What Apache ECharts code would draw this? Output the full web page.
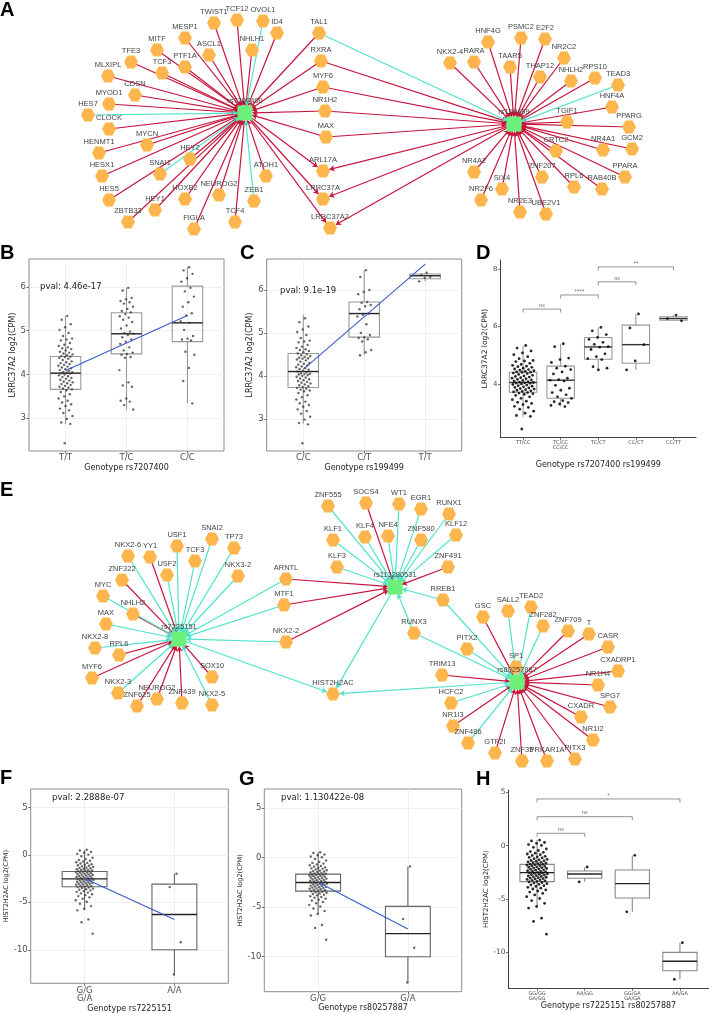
<!DOCTYPE html>
<html><head><meta charset="utf-8">
<script src="https://cdn.jsdelivr.net/npm/echarts@6/dist/echarts.min.js"></script>
<style>html,body{margin:0;padding:0;background:#fff}#c{width:710px;height:1013px}</style>
</head><body><div id="c"></div>
<script>
// ================= DATA =================
// ---- Network A: TF -> SNP edges ('r' = red, 'c' = cyan), SNP -> gene edges
const hubsA = ['rs7207400','rs199499'];
const tfA1red = ['TWIST1','TCF12','ID4','MESP1','NHLH1','ASCL1','MITF','TFE3','PTF1A','TCF3','MLXIPL','CDSN','MYOD1','CLOCK','MYCN','HENMT1','HEY2','HESX1','ATOH1','HES5','HOXB2','NEUROG2','HEY1','ZBTB33','FIGLA','TCF4','TAL1','RXRA','MYF6','NR1H2','MAX'];
const tfA1cyan = ['OVOL1','HES7','SNAI1','ZEB1'];
const tfA2red = ['HNF4G','PSMC2','E2F2','NKX2-4','RARA','TAAR5','NR2C2','THAP12','NHLH2','RPS10','HNF4A','TGIF1','PPARG','CRTC2','NR4A1','GCM2','NR4A2','ZNF207','SIX4','RPL6','RAB40B','PPARA','NR2F6','NR2E3','UBE2V1','RXRA','MYF6','NR1H2','MAX'];
const tfA2cyan = ['TEAD3','TAL1'];
const genesA = ['ARL17A','LRRC37A','LRRC37A2'];

// ---- Network E
const hubsE = ['rs7225151','rs113280531','rs80257887'];
const geneE = 'HIST2H2AC';
const tfE1red = ['YY1','ZNF322','NHLH2','RPL6','MYF6','SOX10','ZNF625','NEUROG2','ZNF439'];
const tfE1cyan = ['NKX2-6','USF1','SNAI2','TP73','TCF3','USF2','NKX3-2','MYC','MAX','NKX2-8','NKX2-3','NKX2-5','ARNTL','MTF1','NKX2-2'];
const tfE2red = ['SOCS4','ZNF491','ARNTL','MTF1','NKX2-2'];
const tfE2cyan = ['ZNF555','WT1','EGR1','RUNX1','KLF1','KLF4','NFE4','ZNF580','KLF12','KLF3','RREB1','RUNX3'];
const tfE3red = ['GSC','ZNF709','T','CASR','CXADRP1','NR1H4','SPG7','CXADR','TRIM13','NR1I3','GTF2I','ZNF35','PRKAR1A','PITX3','NR1I2'];
const tfE3cyan = ['SALL2','TEAD2','ZNF282','RREB1','RUNX3','PITX2','SP1','HCFC2','ZNF486'];

// ---- Panels B, C, D (LRRC37A2 log2 CPM)
const catsB = ['T/T','T/C','C/C'];
const catsC = ['C/C','C/T','T/T'];
const catsD = ['TT/CC','TC/CC\nCC/CC','TC/CT','CC/CT','CC/TT'];
const lrrcMajor = [5.34,5.25,5.15,5.08,5.02,4.95,4.88,4.82,4.80,4.78,4.72,4.68,4.65,4.62,4.60,4.58,4.55,4.52,4.50,4.48,4.46,4.44,4.42,4.41,4.40,4.38,4.36,4.33,4.30,4.28,4.26,4.24,4.22,4.20,4.18,4.16,4.14,4.12,4.10,4.08,4.06,4.05,4.04,4.03,4.02,4.00,3.98,3.96,3.94,3.92,3.90,3.88,3.86,3.84,3.82,3.80,3.78,3.76,3.74,3.72,3.70,3.68,3.66,3.64,3.60,3.55,3.50,3.45,3.40,3.36,3.32,3.28,3.22,3.18,3.12,3.05,2.98,2.90,2.87,2.43];
const B_TC = [5.98,5.92,5.75,5.72,5.68,5.65,5.62,5.55,5.50,5.45,5.42,5.38,5.33,5.30,5.25,5.20,5.12,5.05,4.98,4.95,4.93,4.90,4.85,4.80,4.75,4.70,4.62,4.55,4.50,4.47,4.45,4.40,4.38,4.10,3.82,3.75,3.72,3.45,3.40,3.38,3.30,3.20];
const B_CC = [6.45,6.38,6.30,6.20,6.12,5.98,5.90,5.78,5.65,5.55,5.40,5.35,5.22,5.18,5.02,4.88,4.82,4.80,4.78,4.52,4.45,4.15,3.85,3.34];
const C_CT = [6.46,6.30,6.00,5.95,5.90,5.72,5.70,5.65,5.62,5.55,5.45,5.42,5.38,5.20,5.00,4.95,4.90,4.88,4.85,4.80,4.60,4.55,4.48];
const C_TT = [6.40,6.35,6.30,6.28,6.20];
const D_TCCC = [5.40,5.30,4.90,4.85,4.75,4.62,4.55,4.50,4.42,4.35,4.20,4.15,4.13,4.10,3.95,3.85,3.78,3.70,3.62,3.55,3.50,3.42,3.38,3.35,3.30,3.25,3.21];
const D_TCCT = [5.97,5.85,5.72,5.62,5.55,5.45,5.38,5.30,5.28,5.20,5.05,4.95,4.88,4.85,4.60,4.55,4.49];
const D_CCCT = [6.44,5.95,5.37,4.80,4.49];
const D_CCTT = [6.40,6.28,6.20];
// box stats [lower whisker, Q1, median, Q3, upper whisker]
const B_box = [[2.87,3.66,4.03,4.41,5.34],[3.19,4.47,4.93,5.41,5.98],[3.34,4.75,5.18,6.02,6.45]];
const C_box = [[2.89,3.73,4.10,4.52,5.42],[4.48,4.90,5.45,5.72,6.46],[6.20,6.26,6.33,6.37,6.40]];
const D_box = [[2.86,3.71,4.05,4.41,5.33],[3.21,3.50,4.13,4.62,5.40],[4.49,4.86,5.29,5.62,5.97],[4.49,4.72,5.37,6.05,6.44],[6.20,6.22,6.28,6.34,6.40]];
const B_fit = [[1,4.09],[3,5.35]];
const C_fit = [[1,4.15],[3,6.60]];
const D_sig = [[1,2,6.61],[2,3,7.10],[3,4,7.56],[3,5,8.08]];
const D_sigText = ['ns','****','ns','**'];
const B_pval = 'pval: 4.46e-17';
const C_pval = 'pval: 9.1e-19';

// ---- Panels F, G, H (HIST2H2AC log2 CPM)
const catsF = ['G/G\nG/A','A/A'];
const catsG = ['G/G','G/A'];
const catsH = ['GG/GG\nGA/GG','AA/GG','GG/GA\nGA/GA','AA/GA'];
const histMajor = [0.53,0.45,0.30,0.22,0.10,0.02,-0.15,-0.30,-0.45,-0.55,-0.62,-0.70,-0.78,-0.85,-0.92,-1.00,-1.05,-1.10,-1.15,-1.22,-1.28,-1.33,-1.38,-1.42,-1.47,-1.52,-1.56,-1.60,-1.64,-1.68,-1.72,-1.75,-1.78,-1.82,-1.86,-1.90,-1.94,-1.98,-2.02,-2.06,-2.10,-2.14,-2.18,-2.22,-2.26,-2.30,-2.34,-2.38,-2.42,-2.46,-2.50,-2.53,-2.56,-2.60,-2.64,-2.68,-2.72,-2.76,-2.80,-2.84,-2.88,-2.92,-2.96,-3.00,-3.04,-3.08,-3.12,-3.16,-3.20,-3.25,-3.30,-3.35,-3.40,-3.45,-3.50,-3.56,-3.62,-3.68,-3.75,-3.82,-3.90,-3.98,-4.06,-4.15,-4.25,-4.35,-4.48,-4.62,-4.78,-4.95,-5.15,-5.40,-5.70,-5.85,-6.80,-7.10,-8.30];
const F_AA = [-2.0,-3.4,-9.2,-12.6];
const G_GA = [-0.9,-6.2,-9.1,-12.6];
const H_AAGG = [-2.0,-3.4];
const H_GGGA = [-0.9,-6.2];
const H_AAGA = [-9.1,-12.53];
const F_box = [[-5.7,-3.37,-2.53,-1.75,0.49],[-12.6,-10.0,-6.28,-3.09,-2.0]];
const G_box = [[-5.67,-3.39,-2.52,-1.68,0.54],[-12.58,-10.0,-7.68,-4.93,-0.9]];
const H_box = [[-5.7,-3.37,-2.53,-1.75,0.53],[-3.37,-3.06,-2.66,-2.37,-2.03],[-6.19,-4.9,-3.56,-2.28,-0.94],[-12.53,-11.72,-10.84,-10.0,-9.1]];
const F_fit = [[1,-2.5],[2,-6.8]];
const G_fit = [[1,-2.5],[2,-7.2]];
const H_sig = [[1,2,1.16],[1,3,2.72],[1,4,4.38]];
const H_sigText = ['ns','ns','*'];
const F_pval = 'pval: 2.2888e-07';
const G_pval = 'pval: 1.130422e-08';

// ================= LAYOUT (network node positions, figure units) =================
const layoutA = {
 'rs7207400':[245,113],'rs199499':[514,124],
 'TWIST1':[214,23],'TCF12':[237,20],'OVOL1':[263,21],'ID4':[277,33],'MESP1':[185,38],'NHLH1':[252,50],'ASCL1':[209,55],
 'MITF':[157,50],'TFE3':[131,62],'PTF1A':[185,67],'TCF3':[162,73],'MLXIPL':[108,76],'CDSN':[135,95],'MYOD1':[109,104],
 'HES7':[88,115],'CLOCK':[109,129],'MYCN':[147,145],'HENMT1':[99,153],'HEY2':[190,159],'SNAI1':[160,174],'HESX1':[102,176],
 'ATOH1':[266,176],'HES5':[109,200],'HOXB2':[185,199],'NEUROG2':[219,195],'ZEB1':[254,201],'HEY1':[155,210],'ZBTB33':[128,222],
 'FIGLA':[194,229],'TCF4':[235,222],
 'TAL1':[319,33],'RXRA':[321,61],'MYF6':[323,87],'NR1H2':[325,111],'MAX':[326,137],'ARL17A':[323,171],'LRRC37A':[323,199],'LRRC37A2':[330,228],
 'HNF4G':[488,42],'PSMC2':[521,38],'E2F2':[545,39],'NKX2-4':[450,63],'RARA':[474,62],'TAAR5':[510,67],'NR2C2':[564,58],
 'THAP12':[540,77],'NHLH2':[571,81],'RPS10':[595,78],'TEAD3':[618,85],'HNF4A':[612,107],'TGIF1':[567,122],'PPARG':[629,127],
 'CRTC2':[556,151],'NR4A1':[603,150],'GCM2':[632,149],'NR4A2':[474,172],'ZNF207':[542,177],'SIX4':[502,189],'RPL6':[574,187],
 'RAB40B':[602,189],'PPARA':[625,177],'NR2F6':[481,200],'NR2E3':[520,212],'UBE2V1':[546,214]
};
const layoutE = {
 'rs7225151':[179,639],'rs113280531':[395,587],'rs80257887':[517,682],'HIST2H2AC':[333,694],
 'NKX2-6':[128,556],'YY1':[150,557],'USF1':[177,546],'SNAI2':[212,539],'TP73':[234,548],'TCF3':[195,561],'USF2':[167,575],
 'NKX3-2':[238,576],'ZNF322':[122,580],'MYC':[103,596],'NHLH2':[133,614],'MAX':[106,624],'NKX2-8':[95,648],'RPL6':[119,655],
 'MYF6':[92,678],'SOX10':[212,677],'ARNTL':[286,579],'MTF1':[284,605],'NKX2-2':[286,642],'NKX2-3':[118,693],'ZNF625':[137,706],
 'NEUROG2':[157,699],'ZNF439':[182,703],'NKX2-5':[212,705],
 'ZNF555':[328,506],'SOCS4':[366,503],'WT1':[399,504],'EGR1':[421,509],'RUNX1':[449,514],'KLF1':[333,540],'KLF4':[365,537],
 'NFE4':[388,536],'ZNF580':[421,540],'KLF12':[456,535],'KLF3':[337,567],'ZNF491':[448,567],'RREB1':[443,600],'RUNX3':[414,633],
 'GSC':[483,617],'SALL2':[508,611],'TEAD2':[531,607],'ZNF282':[543,626],'ZNF709':[568,631],'T':[589,634],'CASR':[608,647],
 'CXADRP1':[618,671],'NR1H4':[598,685],'SPG7':[610,707],'CXADR':[581,717],'PITX2':[467,649],'SP1':[516,667],'TRIM13':[442,675],
 'HCFC2':[451,703],'NR1I3':[453,726],'ZNF486':[468,743],'GTF2I':[495,753],'ZNF35':[522,761],'PRKAR1A':[547,761],'PITX3':[575,759],
 'NR1I2':[593,740]
};

// ================= STYLE =================
const RED = '#C8143C', CYAN = '#4FE3CC', ORANGE = '#FDB54C', GREEN = '#6BF07C';
const HEX = 'path://M0,50 L25,0 L75,0 L100,50 L75,100 L25,100 Z';
const PF = 'DejaVu Sans';
const NF = 'Liberation Sans';

function buildGraph(layout, hubs, groups) {
  const links = [];
  groups.forEach(g => {
    g.src.forEach(s => links.push({source: g.rev ? g.hub : s, target: g.rev ? s : g.hub,
      lineStyle: {color: g.col === 'r' ? RED : CYAN}}));
  });
  const nodes = Object.keys(layout).map(n => {
    const isHub = hubs.indexOf(n) >= 0;
    return isHub ? {name: n, value: layout[n], symbol: 'rect', symbolSize: 15, itemStyle: {color: GREEN}, z: 5}
                 : {name: n, value: layout[n]};
  });
  return {
    type: 'graph', coordinateSystem: 'cartesian2d', xAxisIndex: 0, yAxisIndex: 0, layout: 'none',
    symbol: HEX, symbolSize: [14, 13], itemStyle: {color: ORANGE},
    label: {show: true, position: 'top', distance: 1, fontSize: 7.5, color: '#444', fontFamily: NF},
    edgeSymbol: ['none', 'arrow'], edgeSymbolSize: [0, 5],
    lineStyle: {width: 1.2, opacity: 1, curveness: 0},
    emphasis: {disabled: true}, silent: true, animation: false,
    data: nodes, links: links, z: 2
  };
}

const grids = [{left: 0, top: 0, width: 710, height: 1013, outerBoundsMode: 'none'}];
const xAxes = [{gridIndex: 0, type: 'value', min: 0, max: 710, show: false}];
const yAxes = [{gridIndex: 0, type: 'value', min: 0, max: 1013, inverse: true, show: false}];
const series = [];

series.push(buildGraph(layoutA, hubsA, [
  {hub: 'rs7207400', src: tfA1red, col: 'r'}, {hub: 'rs7207400', src: tfA1cyan, col: 'c'},
  {hub: 'rs199499', src: tfA2red, col: 'r'}, {hub: 'rs199499', src: tfA2cyan, col: 'c'},
  {hub: 'rs7207400', src: genesA, col: 'r', rev: true}, {hub: 'rs199499', src: genesA, col: 'r', rev: true}
]));
series.push(buildGraph(layoutE, hubsE, [
  {hub: 'rs7225151', src: tfE1red, col: 'r'}, {hub: 'rs7225151', src: tfE1cyan, col: 'c'},
  {hub: 'rs113280531', src: tfE2red, col: 'r'}, {hub: 'rs113280531', src: tfE2cyan, col: 'c'},
  {hub: 'rs80257887', src: tfE3red, col: 'r'}, {hub: 'rs80257887', src: tfE3cyan, col: 'c'},
  {hub: 'rs7225151', src: [geneE], col: 'c', rev: true}, {hub: 'rs113280531', src: [geneE], col: 'c', rev: true},
  {hub: 'rs80257887', src: [geneE], col: 'c', rev: true}
]));

function jit(i) { return (((i + 1) * 0.6180339887) % 1) * 2 - 1; }

function addPanel(p) {
  const gi = grids.length;
  const bw = p.theme === 'bw';
  grids.push({left: p.box[0], top: p.box[1], width: p.box[2], height: p.box[3], show: bw,
    borderColor: '#8c8c8c', borderWidth: 1, backgroundColor: '#fff', outerBoundsMode: 'none'});
  const xv = p.cats.map((c, i) => i + 1);
  xAxes.push({gridIndex: gi, type: 'value', min: 0.4, max: p.cats.length + 0.6,
    name: p.xName, nameLocation: 'middle', nameGap: p.xGap,
    nameTextStyle: {fontSize: 8, color: '#222', fontFamily: PF},
    axisLine: {show: !bw, onZero: false, lineStyle: {color: '#111', width: 0.8}},
    axisTick: {show: true, customValues: xv, length: 2.5, lineStyle: {color: '#333', width: 0.7}},
    axisLabel: {customValues: xv, formatter: v => p.cats[Math.round(v) - 1] || '', fontSize: p.xFont,
      lineHeight: p.xFont, color: '#4d4d4d', margin: 3, fontFamily: PF},
    splitLine: {show: bw, lineStyle: {color: '#ebebeb', width: 0.8}}
  });
  yAxes.push({gridIndex: gi, type: 'value', min: p.yr[0], max: p.yr[1],
    name: p.yName, nameLocation: 'middle', nameGap: p.yGap,
    nameTextStyle: {fontSize: p.yNameFont, color: '#222', fontFamily: PF},
    axisLine: {show: !bw, onZero: false, lineStyle: {color: '#111', width: 0.8}},
    axisTick: {show: true, customValues: p.yTicks, length: 2.5, lineStyle: {color: '#333', width: 0.7}},
    axisLabel: {customValues: p.yTicks, fontSize: p.yFont, color: '#4d4d4d', margin: 3, fontFamily: PF},
    splitLine: {show: bw, lineStyle: {color: '#ebebeb', width: 0.8}}
  });
  const hw = p.boxW / 2;
  series.push({type: 'custom', xAxisIndex: gi, yAxisIndex: gi, silent: true, z: 2, clip: false,
    data: p.boxes.map((b, i) => [i + 1].concat(b)),
    encode: {x: 0, y: [1, 2, 3, 4, 5]},
    renderItem: (params, api) => {
      const x = api.value(0);
      const lo = api.coord([x, api.value(1)]), q1 = api.coord([x, api.value(2)]), md = api.coord([x, api.value(3)]),
            q3 = api.coord([x, api.value(4)]), hi = api.coord([x, api.value(5)]);
      const l = api.coord([x - hw, 0])[0], r = api.coord([x + hw, 0])[0];
      const st = {stroke: p.boxCol, lineWidth: p.boxLW, fill: 'none'};
      return {type: 'group', children: [
        {type: 'line', shape: {x1: lo[0], y1: lo[1], x2: q1[0], y2: q1[1]}, style: st},
        {type: 'line', shape: {x1: q3[0], y1: q3[1], x2: hi[0], y2: hi[1]}, style: st},
        {type: 'rect', shape: {x: l, y: q3[1], width: r - l, height: q1[1] - q3[1]}, style: st},
        {type: 'line', shape: {x1: l, y1: md[1], x2: r, y2: md[1]}, style: {stroke: p.medCol, lineWidth: 1.4}}
      ]};
    }
  });
  const pts = [];
  p.points.forEach((arr, g) => arr.forEach((v, i) => pts.push([g + 1 + jit(i) * p.jw, v])));
  series.push({type: 'scatter', xAxisIndex: gi, yAxisIndex: gi, data: pts, symbolSize: p.ptSize, silent: true, z: 3,
    itemStyle: {color: p.ptCol, opacity: p.ptOp}});
  if (p.fit) series.push({type: 'line', xAxisIndex: gi, yAxisIndex: gi, data: p.fit, symbol: 'none', silent: true, z: 4,
    lineStyle: {color: '#3a58c9', width: 1.1}});
  if (p.sig) series.push({type: 'custom', xAxisIndex: gi, yAxisIndex: gi, silent: true, z: 4, clip: false,
    data: p.sig, encode: {x: [0, 1], y: 2},
    renderItem: (params, api) => {
      const a = api.coord([api.value(0), api.value(2)]), b = api.coord([api.value(1), api.value(2)]);
      return {type: 'group', children: [
        {type: 'polyline', shape: {points: [[a[0], a[1] + 3.5], a, b, [b[0], b[1] + 3.5]]}, style: {stroke: '#666', lineWidth: 0.7, fill: 'none'}},
        {type: 'text', x: (a[0] + b[0]) / 2, y: a[1] - 1, style: {text: p.sigText[params.dataIndex], fontSize: 5,
          fill: '#555', align: 'center', verticalAlign: 'bottom', fontFamily: PF}}
      ]};
    }
  });
}

const bwBase = {theme: 'bw', boxW: 0.5, boxLW: 1.1, medCol: '#222', ptSize: 2.4, ptCol: '#333', ptOp: 0.75, jw: 0.12};
addPanel(Object.assign({}, bwBase, {box: [29, 259, 195, 192], cats: catsB, yr: [2.25, 6.64], yTicks: [3, 4, 5, 6],
  xName: 'Genotype rs7207400', xGap: 12, yName: 'LRRC37A2 log2(CPM)', yGap: 12, xFont: 8.5, yFont: 8.5, yNameFont: 8,
  boxes: B_box, boxCol: '#999', points: [lrrcMajor, B_TC, B_CC], fit: B_fit}));
addPanel(Object.assign({}, bwBase, {box: [266.7, 259, 195, 192], cats: catsC, yr: [2.25, 6.72], yTicks: [3, 4, 5, 6],
  xName: 'Genotype rs199499', xGap: 12, yName: 'LRRC37A2 log2(CPM)', yGap: 11, xFont: 8.5, yFont: 8.5, yNameFont: 8,
  boxes: C_box, boxCol: '#999', points: [lrrcMajor, C_CT, C_TT], fit: C_fit}));
addPanel({theme: 'classic', box: [500.5, 260, 195.5, 177.3], cats: catsD, yr: [2.14, 8.32], yTicks: [4, 6, 8],
  xName: 'Genotype rs7207400 rs199499', xGap: 24, yName: 'LRRC37A2 log2(CPM)', yGap: 8, xFont: 5, yFont: 7, yNameFont: 7.5,
  boxes: D_box, boxW: 0.73, boxLW: 1.1, boxCol: '#999', medCol: '#333', points: [lrrcMajor, D_TCCC, D_TCCT, D_CCCT, D_CCTT],
  ptSize: 2.8, ptCol: '#111', ptOp: 0.9, jw: 0.3, sig: D_sig, sigText: D_sigText});
addPanel(Object.assign({}, bwBase, {box: [30.7, 789, 197.6, 194.3], cats: catsF, yr: [-13.53, 6.93], yTicks: [-10, -5, 0, 5],
  xName: 'Genotype rs7225151', xGap: 20, yName: 'HIST2H2AC log2(CPM)', yGap: 13, xFont: 8.5, yFont: 8.5, yNameFont: 6.5,
  boxes: F_box, boxCol: '#666', jw: 0.1, points: [histMajor, F_AA], fit: F_fit}));
addPanel(Object.assign({}, bwBase, {box: [264.3, 789, 197.4, 202.7], cats: catsG, yr: [-13.53, 6.9], yTicks: [-10, -5, 0, 5],
  xName: 'Genotype rs80257887', xGap: 12, yName: 'HIST2H2AC log2(CPM)', yGap: 12, xFont: 8.5, yFont: 8.5, yNameFont: 6.5,
  boxes: G_box, boxCol: '#666', jw: 0.1, points: [histMajor, G_GA], fit: G_fit}));
addPanel({theme: 'classic', box: [508.5, 790, 200, 198.3], cats: catsH, yr: [-13.37, 5.22], yTicks: [-10, -5, 0, 5],
  xName: 'Genotype rs7225151 rs80257887', xGap: 14, yName: 'HIST2H2AC log2(CPM)', yGap: 12, xFont: 5, yFont: 7.5, yNameFont: 7,
  boxes: H_box, boxW: 0.72, boxLW: 1.1, boxCol: '#888', medCol: '#222', points: [histMajor, H_AAGG, H_GGGA, H_AAGA],
  ptSize: 2.8, ptCol: '#111', ptOp: 0.9, jw: 0.22, sig: H_sig, sigText: H_sigText});

const letters = [['A', 0, 0], ['B', 0, 243], ['C', 240, 243], ['D', 476, 243], ['E', 0, 480], ['F', 0, 768], ['G', 239, 769], ['H', 476, 769]];
const graphics = letters.map(l => ({type: 'text', left: l[1], top: l[2], z: 100,
  style: {text: l[0], font: 'bold 20px "Liberation Sans"', fill: '#000'}}));
[[B_pval, 40, 282], [C_pval, 280, 286], [F_pval, 52, 793], [G_pval, 281, 793]].forEach(t => graphics.push(
  {type: 'text', left: t[1], top: t[2], z: 100, style: {text: t[0], fontSize: 8.5, fontFamily: PF, fill: '#222'}}));

const chart = echarts.init(document.getElementById('c'), null, {renderer: 'canvas'});
chart.setOption({animation: false, backgroundColor: '#fff', textStyle: {fontFamily: PF},
  grid: grids, xAxis: xAxes, yAxis: yAxes, series: series, graphic: graphics});
</script></body></html>
